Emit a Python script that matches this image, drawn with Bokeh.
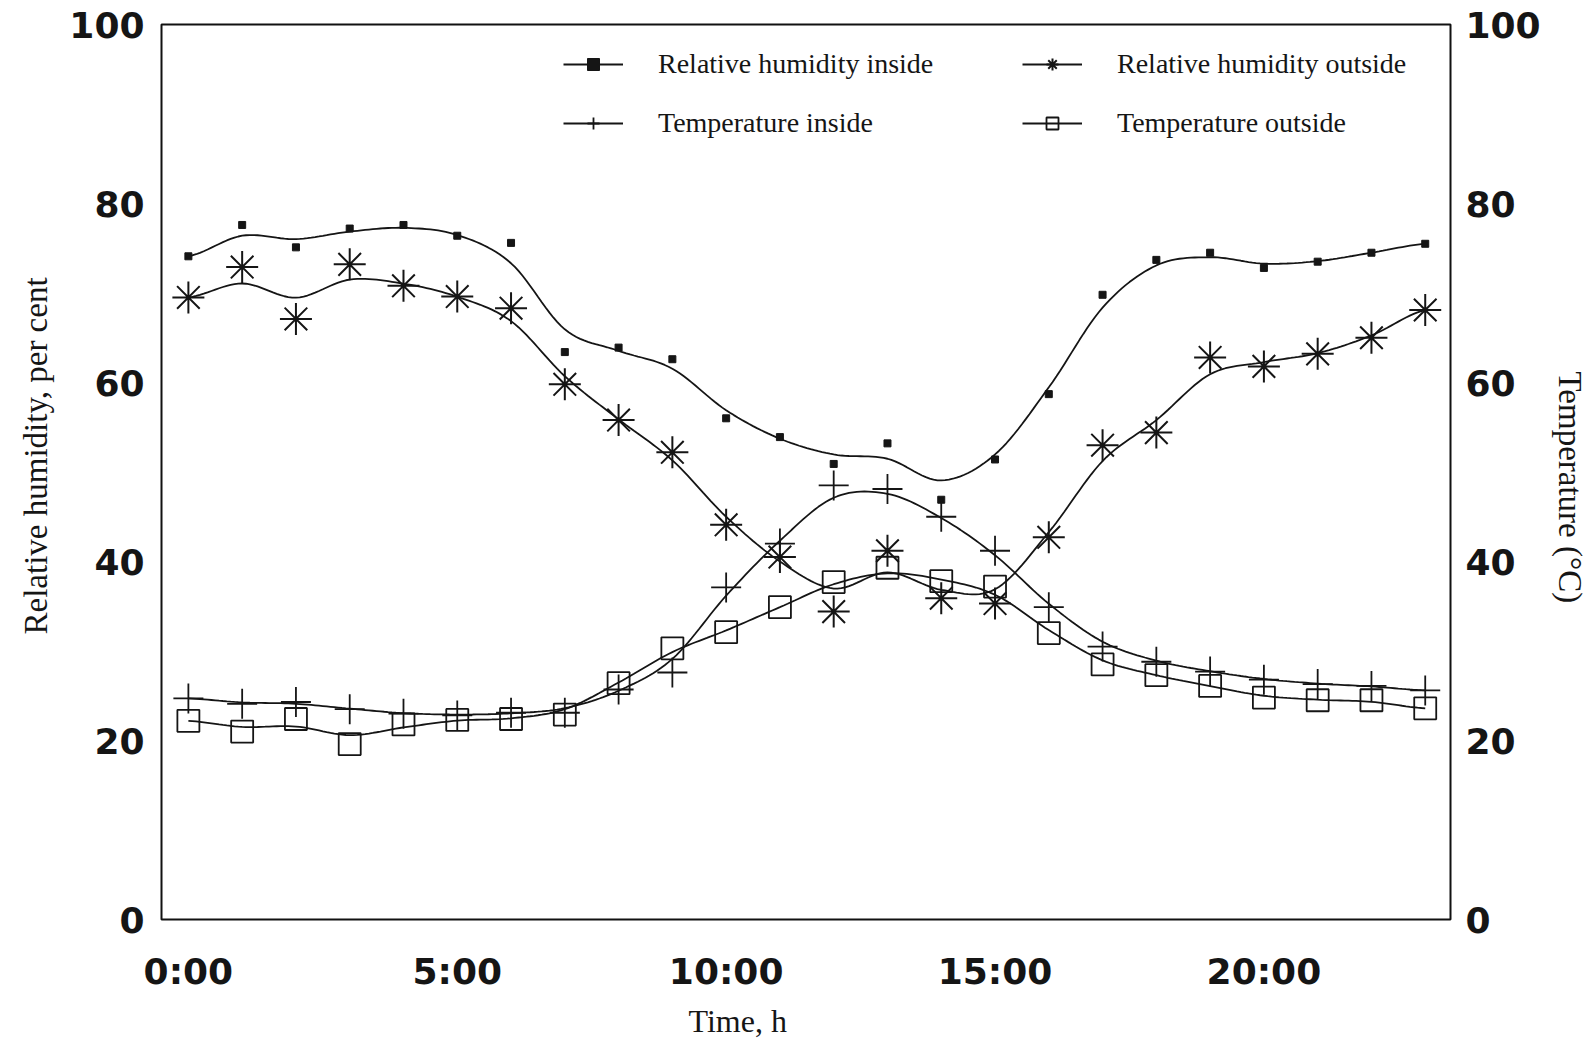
import numpy as np
from bokeh.plotting import figure
from bokeh.models import (Range1d, LinearAxis, FixedTicker, Legend, LegendItem, Title)
from bokeh.embed import file_html
from bokeh.resources import INLINE

# ---- data ----
hours = list(range(24))
rh_inside = [74.1, 77.6, 75.1, 77.2, 77.6, 76.4, 75.6, 63.4, 63.9, 62.6, 56.0, 53.9,
             50.9, 53.2, 46.9, 51.4, 58.7, 69.8, 73.7, 74.5, 72.8, 73.5, 74.5, 75.5]
rh_outside = [69.5, 72.9, 67.1, 73.2, 70.8, 69.6, 68.3, 59.8, 55.8, 52.2, 44.1, 40.5,
              34.4, 41.2, 35.9, 35.3, 42.7, 53.0, 54.4, 62.8, 61.8, 63.2, 65.0, 68.1]
temp_inside = [24.7, 24.1, 24.3, 23.5, 23.0, 22.8, 23.1, 23.1, 25.7, 27.6, 37.1, 42.0,
               48.5, 48.1, 45.0, 41.2, 34.9, 30.5, 28.8, 27.7, 26.8, 26.3, 26.1, 25.6]
temp_outside = [22.2, 21.0, 22.4, 19.6, 21.8, 22.3, 22.4, 22.9, 26.4, 30.3, 32.1, 34.9,
                37.7, 39.3, 37.8, 37.2, 32.0, 28.5, 27.3, 26.1, 24.8, 24.5, 24.5, 23.6]
x_ticks = [0, 5, 10, 15, 20]
x_tick_labels = ["0:00", "5:00", "10:00", "15:00", "20:00"]
y_ticks = [0, 20, 40, 60, 80, 100]


def smooth_curve(x, y, n=14, w=0.2):
    """Lightly smoothed Catmull-Rom curve through the measured values."""
    x = np.asarray(x, float)
    y = np.asarray(y, float)
    ys = y.copy()
    ys[1:-1] = w * y[:-2] + (1 - 2 * w) * y[1:-1] + w * y[2:]
    yp = np.concatenate([[ys[0]], ys, [ys[-1]]])
    xs_out, ys_out = [], []
    t = np.linspace(0, 1, n, endpoint=False)
    for i in range(len(ys) - 1):
        p0, p1, p2, p3 = yp[i], yp[i + 1], yp[i + 2], yp[i + 3]
        yy = 0.5 * (2 * p1 + (-p0 + p2) * t + (2 * p0 - 5 * p1 + 4 * p2 - p3) * t ** 2
                    + (-p0 + 3 * p1 - 3 * p2 + p3) * t ** 3)
        xx = x[i] + (x[i + 1] - x[i]) * t
        xs_out.extend(xx)
        ys_out.extend(yy)
    xs_out.append(x[-1])
    ys_out.append(ys[-1])
    return xs_out, ys_out


p = figure(width=1595, height=1047, x_range=Range1d(-0.5, 23.47), y_range=Range1d(0, 100),
           output_backend="svg", toolbar_location=None,
           min_border_left=161, min_border_right=145, min_border_top=24, min_border_bottom=128)
p.extra_y_ranges = {"temp": Range1d(0, 100)}
p.background_fill_color = "white"
p.border_fill_color = "white"
p.outline_line_color = "#111111"
p.outline_line_width = 2
p.xgrid.grid_line_color = None
p.ygrid.grid_line_color = None

TICK_FONT = "DejaVu Sans"
SERIF = "Liberation Serif"
INK = "#151515"

# left axis
p.yaxis.ticker = FixedTicker(ticks=y_ticks)

# right axis
raxis = LinearAxis(y_range_name="temp", ticker=FixedTicker(ticks=y_ticks))
p.add_layout(raxis, "right")

# x axis
p.xaxis.ticker = FixedTicker(ticks=x_ticks)
p.xaxis.major_label_overrides = {t: l for t, l in zip(x_ticks, x_tick_labels)}

for ax in [p.xaxis[0], p.yaxis[0], raxis]:
    ax.axis_line_color = None
    ax.major_tick_line_color = None
    ax.minor_tick_line_color = None
    ax.major_tick_in = 0
    ax.major_tick_out = 0
    ax.minor_tick_in = 0
    ax.minor_tick_out = 0
    ax.major_label_text_font = TICK_FONT
    ax.major_label_text_font_style = "bold"
    ax.major_label_text_font_size = "36px"
    ax.major_label_text_color = INK

p.yaxis[0].major_label_standoff = 17
raxis.major_label_standoff = 15
p.xaxis[0].major_label_standoff = 31

title_style = dict(text_font=SERIF, text_font_style="normal", text_color=INK,
                   vertical_align="middle")
xt = Title(text="Time, h", align="left", offset=527, standoff=14, text_font_size="32px",
           **title_style)
p.add_layout(xt, "below")
lt = Title(text="Relative humidity, per cent", align="left", offset=285, standoff=24,
           text_font_size="33px", **title_style)
p.add_layout(lt, "left")
rt = Title(text="Temperature (°C)", align="left", offset=347, standoff=14,
           text_font_size="33px", **title_style)
p.add_layout(rt, "right")

# ---- series ----
LW = 1.8
# RH inside
sx, sy = smooth_curve(hours, rh_inside)
l1 = p.line(sx, sy, line_color=INK, line_width=LW)
m1 = p.scatter(hours, rh_inside, marker="square", size=7, fill_color=INK, line_color=INK)

# RH outside
sx, sy = smooth_curve(hours, rh_outside)
l2 = p.line(sx, sy, line_color=INK, line_width=LW)
m2 = p.scatter(hours, rh_outside, marker="asterisk", size=32, line_color=INK, line_width=2)

# Temperature inside
sx, sy = smooth_curve(hours, temp_inside)
l3 = p.line(sx, sy, line_color=INK, line_width=LW, y_range_name="temp")
m3 = p.scatter(hours, temp_inside, marker="cross", size=30, line_color=INK, line_width=1.8,
               y_range_name="temp")

# Temperature outside
sx, sy = smooth_curve(hours, temp_outside)
l4 = p.line(sx, sy, line_color=INK, line_width=LW, y_range_name="temp")
m4 = p.scatter(hours, temp_outside, marker="square", size=22, fill_color=None, line_color=INK,
               line_width=1.8, y_range_name="temp")

legend = Legend(items=[
    LegendItem(label="Relative humidity inside", renderers=[l1, m1]),
    LegendItem(label="Temperature inside", renderers=[l3, m3]),
    LegendItem(label="Relative humidity outside", renderers=[l2, m2]),
    LegendItem(label="Temperature outside", renderers=[l4, m4]),
], location=(402, 780), ncols=2, orientation="vertical")
legend.label_text_font = SERIF
legend.label_text_font_size = "28px"
legend.label_text_color = INK
legend.glyph_width = 60
legend.glyph_height = 30
legend.label_height = 30
legend.label_width = 337
legend.label_standoff = 35
legend.spacing = 27
legend.padding = 0
legend.margin = 0
legend.border_line_color = None
legend.background_fill_alpha = 0
p.add_layout(legend, "center")

open("out.html", "w").write(file_html(p, INLINE))
